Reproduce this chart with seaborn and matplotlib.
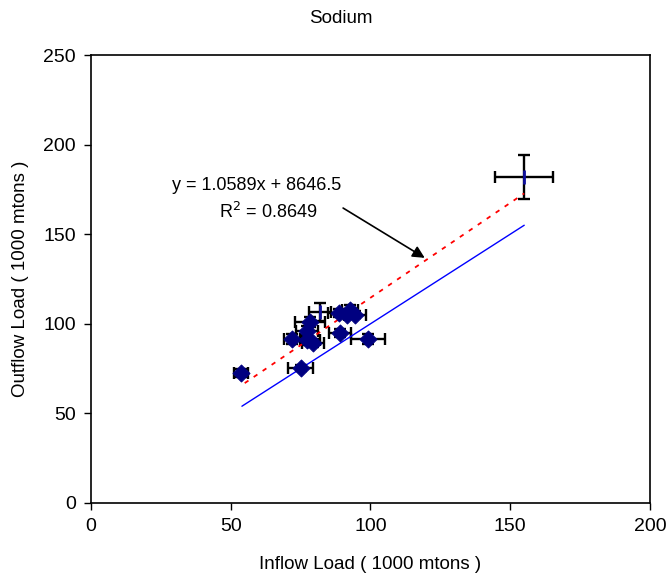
import numpy as np
import pandas as pd
import matplotlib
matplotlib.use("Agg")
import matplotlib.pyplot as plt
import seaborn as sns

# inflow / outflow loads (1000 mtons) with error half-widths
inflow = [53.7, 75.1, 71.9, 77.3, 79.4, 77.3, 78.4, 88.7, 91.6, 94.5, 92.7, 89.1, 99.1]
outflow = [72.5, 75.3, 91.5, 91.0, 89.3, 96.0, 101.0, 106.0, 105.0, 105.0, 107.7, 94.9, 91.5]
inflow_err = [2.5, 4.5, 3.0, 4.5, 4.0, 4.0, 5.5, 4.0, 3.0, 4.0, 3.0, 4.0, 6.0]
outflow_err = [2.0, 1.5, 3.0, 3.0, 2.0, 3.0, 3.0, 2.0, 2.0, 2.0, 3.0, 2.0, 3.0]

# points whose marker is hidden behind the bars
inflow_b = [82.0, 155.0]
outflow_b = [106.5, 182.0]
inflow_err_b = [4.0, 10.3]
outflow_err_b = [5.0, 12.2]

# trend line y = 1.0589x + 8646.5 (in mtons)
slope = 1.0589
intercept = 8.6465
fit_range = [55.0, 155.0]
one_to_one = [54.0, 155.0]

sns.set_style("ticks")
plt.rcParams["font.family"] = ["Liberation Sans", "DejaVu Sans"]
plt.rcParams["text.color"] = "black"
plt.rcParams["axes.labelcolor"] = "black"

fig = plt.figure(figsize=(6.69, 5.81), dpi=100)
ax = fig.add_axes([0.136, 0.1343, 0.8356, 0.771])

df = pd.DataFrame({"inflow": inflow, "outflow": outflow})

ax.errorbar(inflow, outflow, xerr=inflow_err, yerr=outflow_err, fmt="none",
            ecolor="black", elinewidth=1.7, capsize=4, capthick=1.7, zorder=2)
ax.errorbar(inflow_b, outflow_b, xerr=inflow_err_b, yerr=outflow_err_b, fmt="none",
            ecolor="black", elinewidth=1.7, capsize=4, capthick=1.7, zorder=2)
ax.plot(inflow_b, outflow_b, marker="|", color="#1010a0", ms=10, mew=2, ls="none", zorder=3)

sns.scatterplot(data=df, x="inflow", y="outflow", marker="D", s=75,
                color="#000080", edgecolor="#000080", ax=ax, zorder=4)

fx = np.array(fit_range)
sns.lineplot(x=fx, y=slope * fx + intercept, color="red", lw=1.3,
             ax=ax, zorder=3).lines[-1].set_dashes([2.5, 3.5])
ox = np.array(one_to_one)
ax.plot(ox, ox, color="blue", lw=1.0, zorder=3)

ax.text(59.4, 177.2, "y = 1.0589x + 8646.5", ha="center", va="center", fontsize=13)
ax.text(63.3, 162.4, "R$^2$ = 0.8649", ha="center", va="center", fontsize=13)
ax.annotate("", xy=(119.4, 136.8), xytext=(90.2, 164.6),
            arrowprops=dict(arrowstyle="-|>", color="black", lw=1.2, mutation_scale=18,
                            shrinkA=0, shrinkB=0))

ax.set_xlim(0, 200)
ax.set_ylim(0, 250)
ax.set_xticks([0, 50, 100, 150, 200])
ax.set_yticks([0, 50, 100, 150, 200, 250])
ax.tick_params(direction="out", length=5, width=1, labelsize=14, colors="black", pad=6)
for s in ax.spines.values():
    s.set_color("black")
    s.set_linewidth(1.2)
ax.set_xlabel("Inflow Load ( 1000 mtons )", fontsize=13.5, labelpad=15)
ax.set_ylabel("Outflow Load ( 1000 mtons )", fontsize=13.5, labelpad=10)
fig.text(0.51, 0.968, "Sodium", ha="center", va="center", fontsize=13.5)

fig.savefig("out.png", dpi=100)
